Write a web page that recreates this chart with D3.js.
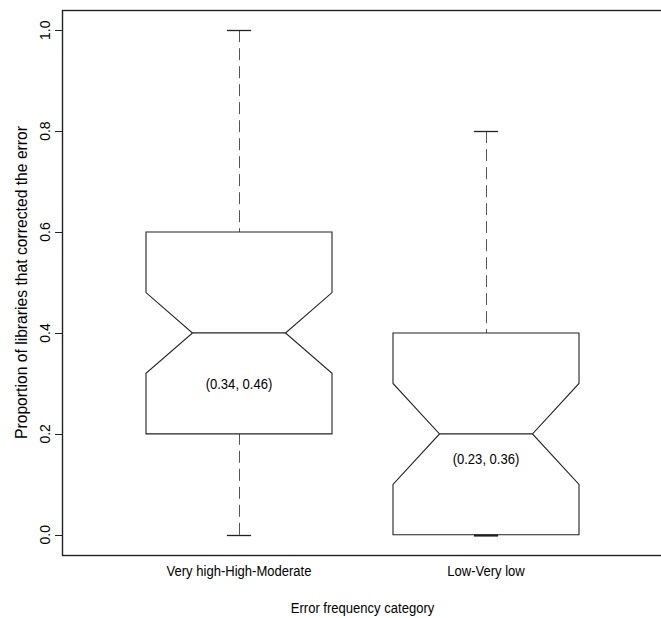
<!DOCTYPE html>
<html>
<head>
<meta charset="utf-8">
<script src="https://cdn.jsdelivr.net/npm/d3@7"></script>
<style>
  body { margin: 0; background: #fff; }
  svg text { font-family: "Liberation Sans", Arial, Helvetica, sans-serif; fill: #000; }
</style>
</head>
<body>
<svg id="chart"></svg>
<script>
// box stats
const categories = ["Very high-High-Moderate", "Low-Very low"];
const whiskerLow = [0.0, 0.0];
const q1 = [0.2, 0.0];
const median = [0.4, 0.2];
const q3 = [0.6, 0.4];
const whiskerHigh = [1.0, 0.8];
const notchLow = [0.32, 0.10];
const notchHigh = [0.48, 0.30];
const intervalLabels = ["(0.34, 0.46)", "(0.23, 0.36)"];
const yTicks = [0.0, 0.2, 0.4, 0.6, 0.8, 1.0];

const size = { width: 661, height: 618 };
const plot = { left: 62, right: 663, top: 10, bottom: 555 };
const squeeze = 0.87; // horizontal text looks condensed in the original

const svg = d3.select("#chart")
  .attr("width", size.width)
  .attr("height", size.height);

// R style: boxes at 1..n, axis range padded by 4%
const xScale = d3.scaleLinear([0.2834, 2.7166], [plot.left, plot.right]);
const yScale = d3.scaleLinear([-0.04, 1.04], [plot.bottom, plot.top]);
const boxHalf = 0.3765;   // half box width, data units
const capHalf = 0.049;    // whisker cap half width

const data = categories.map((c, i) => ({
  name: c, pos: i + 1,
  lo: whiskerLow[i], q1: q1[i], med: median[i], q3: q3[i], hi: whiskerHigh[i],
  nLo: notchLow[i], nHi: notchHigh[i], label: intervalLabels[i]
}));

// frame
svg.append("rect")
  .attr("x", plot.left + 0.5)
  .attr("y", plot.top + 0.5)
  .attr("width", plot.right - plot.left)
  .attr("height", plot.bottom - plot.top)
  .attr("fill", "none")
  .attr("stroke", "#222")
  .attr("stroke-width", 1.4);

// y axis (rotated labels like base R)
const yAxis = svg.append("g");
yAxis.selectAll("line")
  .data(yTicks)
  .join("line")
  .attr("x1", plot.left - 7)
  .attr("x2", plot.left)
  .attr("y1", d => Math.round(yScale(d)) + 0.5)
  .attr("y2", d => Math.round(yScale(d)) + 0.5)
  .attr("stroke", "#222");
yAxis.selectAll("text")
  .data(yTicks)
  .join("text")
  .attr("transform", d => `translate(50, ${yScale(d)}) rotate(-90)`)
  .attr("text-anchor", "middle")
  .attr("font-size", 14)
  .text(d => d3.format(".1f")(d));

svg.append("text")
  .attr("transform", `translate(27, ${(plot.top + plot.bottom) / 2}) rotate(-90)`)
  .attr("text-anchor", "middle")
  .attr("font-size", 15.7)
  .text("Proportion of libraries that corrected the error");

// x labels
svg.append("g")
  .selectAll("text")
  .data(data)
  .join("text")
  .attr("transform", d => `translate(${xScale(d.pos)}, 576) scale(${squeeze}, 1)`)
  .attr("text-anchor", "middle")
  .attr("font-size", 15)
  .text(d => d.name);

svg.append("text")
  .attr("transform", `translate(${(plot.left + plot.right) / 2}, 613) scale(${squeeze}, 1)`)
  .attr("text-anchor", "middle")
  .attr("font-size", 15)
  .text("Error frequency category");

// boxes
const boxes = svg.append("g")
  .selectAll("g")
  .data(data)
  .join("g");

// dashed whiskers
boxes.append("line")
  .attr("x1", d => Math.round(xScale(d.pos)) + 0.5)
  .attr("x2", d => Math.round(xScale(d.pos)) + 0.5)
  .attr("y1", d => yScale(d.hi))
  .attr("y2", d => yScale(d.q3))
  .attr("stroke", "#555")
  .attr("stroke-dasharray", "12,6");
boxes.append("line")
  .attr("x1", d => Math.round(xScale(d.pos)) + 0.5)
  .attr("x2", d => Math.round(xScale(d.pos)) + 0.5)
  .attr("y1", d => yScale(d.lo))
  .attr("y2", d => yScale(d.q1))
  .attr("stroke", "#555")
  .attr("stroke-dasharray", "12,6");

// caps
["lo", "hi"].forEach(k => {
  boxes.append("line")
    .attr("x1", d => xScale(d.pos - capHalf))
    .attr("x2", d => xScale(d.pos + capHalf))
    .attr("y1", d => Math.round(yScale(d[k])) + 0.5)
    .attr("y2", d => Math.round(yScale(d[k])) + 0.5)
    .attr("stroke", "#222")
    .attr("stroke-width", d => (d[k] === d.q1 ? 2.2 : 1.3));
});

// notched box outline
const notchPath = d => {
  const xl = xScale(d.pos - boxHalf), xr = xScale(d.pos + boxHalf);
  const xnl = xScale(d.pos - boxHalf / 2), xnr = xScale(d.pos + boxHalf / 2);
  const p = d3.path();
  p.moveTo(xl, yScale(d.q1));
  p.lineTo(xl, yScale(d.nLo));
  p.lineTo(xnl, yScale(d.med));
  p.lineTo(xl, yScale(d.nHi));
  p.lineTo(xl, yScale(d.q3));
  p.lineTo(xr, yScale(d.q3));
  p.lineTo(xr, yScale(d.nHi));
  p.lineTo(xnr, yScale(d.med));
  p.lineTo(xr, yScale(d.nLo));
  p.lineTo(xr, yScale(d.q1));
  p.closePath();
  return p.toString();
};
boxes.append("path")
  .attr("d", notchPath)
  .attr("fill", "none")
  .attr("stroke", "#222")
  .attr("stroke-width", 1.1);

// median line
boxes.append("line")
  .attr("x1", d => xScale(d.pos - boxHalf / 2))
  .attr("x2", d => xScale(d.pos + boxHalf / 2))
  .attr("y1", d => yScale(d.med))
  .attr("y2", d => yScale(d.med))
  .attr("stroke", "#222")
  .attr("stroke-width", 1.3);

// interval text, placed inside the lower half of each box
boxes.append("text")
  .attr("transform", (d, i) => `translate(${xScale(d.pos)}, ${[389, 464][i]}) scale(${squeeze}, 1)`)
  .attr("text-anchor", "middle")
  .attr("font-size", 15)
  .text(d => d.label);
</script>
</body>
</html>
